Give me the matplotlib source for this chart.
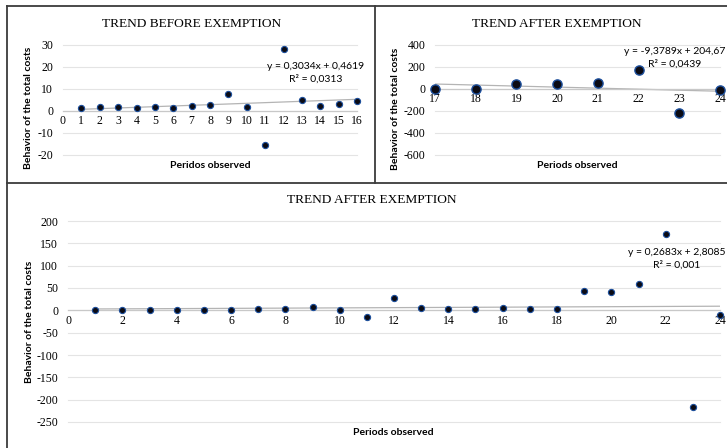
import numpy as np
import matplotlib
matplotlib.use('Agg')
import matplotlib.pyplot as plt
from matplotlib.lines import Line2D

plt.rcParams['axes.unicode_minus'] = False

# periods and observed behaviour of the total costs
periods = list(range(1, 25))
costs = [1.5, 1.7, 1.8, 1.5, 1.7, 1.2, 2.2, 2.7, 7.5, 1.7, -15.5, 28,
         4.8, 2.2, 3.2, 4.6, 2, 3, 44, 42, 58, 172, -217, -10]

# trendline coefficients shown on the chart (slope, intercept)
trend_before = (0.3034, 0.4619)
trend_after = (-9.3789, 204.67)
trend_all = (0.2683, 2.8085)

eq_before = 'y = 0,3034x + 0,4619\nR² = 0,0313'
eq_after = 'y = -9,3789x + 204,67\nR² = 0,0439'
eq_all = 'y = 0,2683x + 2,8085\nR² = 0,001'

W, H = 727, 448
fig = plt.figure(figsize=(W / 100, H / 100), dpi=100)


def box(l, t, r, b):
    return [l / W, 1 - b / H, (r - l) / W, (b - t) / H]


def fx(x):
    return x / W


def fy(y):
    return 1 - y / H


serif = 'Liberation Serif'
sans = 'Lato'
dot_face = '#0b0b14'
dot_edge = '#1d4f9c'


def style(ax, xlim, ylim, yticks, xticks):
    ax.set_xlim(*xlim)
    ax.set_ylim(*ylim)
    ax.set_yticks(yticks)
    ax.set_xticks(xticks)
    for s in ['top', 'right', 'left']:
        ax.spines[s].set_visible(False)
    ax.spines['bottom'].set_position(('data', 0))
    ax.spines['bottom'].set_color('#c8c8c8')
    ax.spines['bottom'].set_linewidth(0.9)
    ax.grid(axis='y', color='#e4e4e4', linewidth=0.8)
    ax.set_axisbelow(True)
    ax.tick_params(axis='both', length=0, labelsize=8.5)
    ax.tick_params(axis='x', pad=3)
    ax.tick_params(axis='y', pad=7)
    for lab in ax.get_xticklabels() + ax.get_yticklabels():
        lab.set_fontfamily(serif)
    for gl in ax.get_ygridlines():
        gl.set_clip_on(False)


def trend(ax, coef, x0, x1):
    xs = np.array([x0, x1])
    ax.plot(xs, coef[0] * xs + coef[1], color='#b4b4b4', linewidth=0.9, zorder=2)


# top left: before exemption
ax1 = fig.add_axes(box(63, 45, 357, 155))
style(ax1, (0, 16), (-20, 30), range(-20, 31, 10), range(0, 17))
trend(ax1, trend_before, 1, 16)
ax1.scatter(periods[:16], costs[:16], s=20, color=dot_face, edgecolors=dot_edge,
            linewidths=0.8, zorder=3, clip_on=False)

# top right: after exemption
ax2 = fig.add_axes(box(435, 45, 720, 155))
style(ax2, (17, 24), (-600, 400), range(-600, 401, 200), range(17, 25))
trend(ax2, trend_after, 17, 24)
ax2.scatter(periods[16:], costs[16:], s=44, color=dot_face, edgecolors=dot_edge,
            linewidths=1.0, zorder=3, clip_on=False)

# bottom: whole period
ax3 = fig.add_axes(box(68, 221, 720, 422))
style(ax3, (0, 24), (-250, 200), range(-250, 201, 50), range(0, 25, 2))
trend(ax3, trend_all, 1, 24)
ax3.scatter(periods, costs, s=20, color=dot_face, edgecolors=dot_edge,
            linewidths=0.8, zorder=3, clip_on=False)

# titles
tkw = dict(family=serif, fontsize=9.6, ha='center', va='center')
fig.text(fx(192), fy(24), 'TREND BEFORE EXEMPTION', **tkw)
fig.text(fx(557), fy(24), 'TREND AFTER EXEMPTION', **tkw)
fig.text(fx(372), fy(200), 'TREND AFTER EXEMPTION', **tkw)

# axis labels
lkw = dict(family=sans, fontsize=7.5, fontweight='bold', ha='center', va='center')
fig.text(fx(29), fy(108), 'Behavior of the total costs', rotation=90, **lkw)
fig.text(fx(396), fy(109), 'Behavior of the total costs', rotation=90, **lkw)
fig.text(fx(30), fy(322), 'Behavior of the total costs', rotation=90, **lkw)
fig.text(fx(210), fy(165), 'Peridos observed', **lkw)
fig.text(fx(577), fy(165), 'Periods observed', **lkw)
fig.text(fx(393), fy(432), 'Periods observed', **lkw)

# trendline equations
ekw = dict(family=sans, fontsize=7.5, ha='center', va='center', multialignment='center',
           linespacing=1.5)
fig.text(fx(316), fy(73), eq_before, **ekw)
fig.text(fx(675), fy(58), eq_after, **ekw)
fig.text(fx(677), fy(259), eq_all, **ekw)

# panel borders
bc = '#3c3c3c'
for xs, ys in [([7, 7], [6, 448]), ([7, 727], [6, 6]), ([375, 375], [6, 183]),
               ([7, 727], [183, 183])]:
    fig.add_artist(Line2D([fx(x) for x in xs], [fy(y) for y in ys],
                          color=bc, linewidth=1.3))

fig.savefig('out.png', dpi=100)
